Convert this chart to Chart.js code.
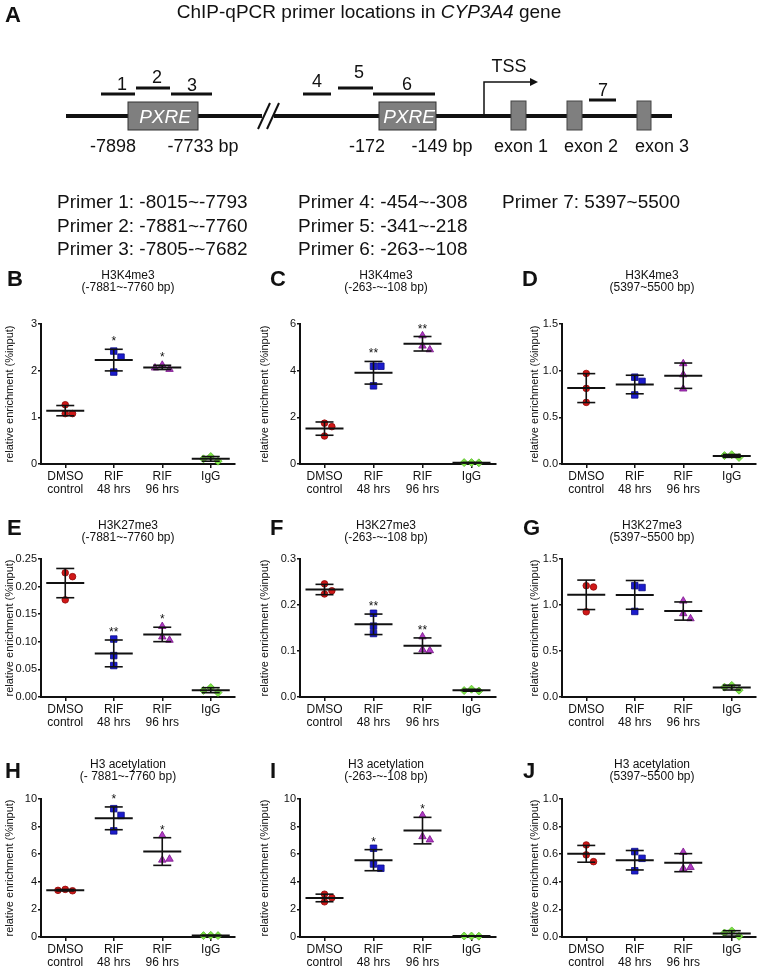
<!DOCTYPE html>
<html>
<head>
<meta charset="utf-8">
<script src="https://cdn.jsdelivr.net/npm/chart.js@4.4.1/dist/chart.umd.min.js"></script>
<style>
  body { margin: 0; background: #fff; }
  #wrap { position: relative; width: 777px; height: 968px; overflow: hidden; }
  #wrap canvas { position: absolute; }
  #overlay { position: absolute; left: 0; top: 0; pointer-events: none; }
</style>
</head>
<body>
<div id="wrap">
<svg id="overlay" width="777" height="968" font-family="'Liberation Sans', Arial, sans-serif" fill="#111">
  <!-- panel A: primer map -->
  <text x="5" y="22" font-size="22" font-weight="bold">A</text>
  <text x="369" y="18" font-size="19" text-anchor="middle">ChIP-qPCR primer locations in <tspan font-style="italic">CYP3A4</tspan> gene</text>

  <line x1="66" y1="116" x2="262" y2="116" stroke="#111" stroke-width="4"/>
  <line x1="274" y1="116" x2="672" y2="116" stroke="#111" stroke-width="4"/>
  <line x1="258" y1="129" x2="270" y2="103" stroke="#111" stroke-width="2"/>
  <line x1="267" y1="129" x2="279" y2="103" stroke="#111" stroke-width="2"/>

  <rect x="128" y="102" width="70" height="28" fill="#7f7f7f" stroke="#333" stroke-width="1"/>
  <text x="165" y="123" font-size="19" font-style="italic" fill="#fff" text-anchor="middle">PXRE</text>
  <rect x="379" y="102" width="57" height="28" fill="#7f7f7f" stroke="#333" stroke-width="1"/>
  <text x="409" y="123" font-size="19" font-style="italic" fill="#fff" text-anchor="middle">PXRE</text>

  <rect x="511" y="101" width="15" height="29" fill="#7f7f7f" stroke="#444" stroke-width="1"/>
  <rect x="567" y="101" width="15" height="29" fill="#7f7f7f" stroke="#444" stroke-width="1"/>
  <rect x="637" y="101" width="14" height="29" fill="#7f7f7f" stroke="#444" stroke-width="1"/>

  <polyline points="484,116 484,82 531,82" fill="none" stroke="#111" stroke-width="1.5"/>
  <polygon points="530,78 538,82 530,86" fill="#111"/>
  <text x="509" y="72" font-size="18" text-anchor="middle">TSS</text>

  <g stroke="#111" stroke-width="3">
    <line x1="101" y1="94" x2="135" y2="94"/>
    <line x1="136" y1="88" x2="170" y2="88"/>
    <line x1="171" y1="94" x2="212" y2="94"/>
    <line x1="303" y1="94" x2="331" y2="94"/>
    <line x1="338" y1="88" x2="373" y2="88"/>
    <line x1="373" y1="94" x2="435" y2="94"/>
    <line x1="589" y1="100" x2="616" y2="100"/>
  </g>
  <g font-size="18" text-anchor="middle">
    <text x="122" y="90">1</text>
    <text x="157" y="83">2</text>
    <text x="192" y="91">3</text>
    <text x="317" y="87">4</text>
    <text x="359" y="78">5</text>
    <text x="407" y="90">6</text>
    <text x="603" y="96">7</text>
  </g>
  <g font-size="18" text-anchor="middle">
    <text x="113" y="152">-7898</text>
    <text x="203" y="152">-7733 bp</text>
    <text x="367" y="152">-172</text>
    <text x="442" y="152">-149 bp</text>
    <text x="521" y="152">exon 1</text>
    <text x="591" y="152">exon 2</text>
    <text x="662" y="152">exon 3</text>
  </g>
  <g font-size="19">
    <text x="57" y="208">Primer 1: -8015~-7793</text>
    <text x="57" y="232">Primer 2: -7881~-7760</text>
    <text x="57" y="255">Primer 3: -7805-~7682</text>
    <text x="298" y="208">Primer 4: -454~-308</text>
    <text x="298" y="232">Primer 5: -341~-218</text>
    <text x="298" y="255">Primer 6: -263-~108</text>
    <text x="502" y="208">Primer 7: 5397~5500</text>
  </g>

  <!-- panel letters -->
  <g font-size="22" font-weight="bold">
    <text x="7" y="286">B</text>
    <text x="270" y="286">C</text>
    <text x="522" y="286">D</text>
    <text x="7" y="535">E</text>
    <text x="270" y="535">F</text>
    <text x="523" y="535">G</text>
    <text x="5" y="778">H</text>
    <text x="270" y="778">I</text>
    <text x="523" y="778">J</text>
  </g>
</svg>
</div>
<script>
const categories = [["DMSO", "control"], ["RIF", "48 hrs"], ["RIF", "96 hrs"], "IgG"];
const yTitle = "relative enrichment (%input)";

// replicates per group: DMSO control, RIF 48 hrs, RIF 96 hrs, IgG
const k4Pxre = [[1.27, 1.08, 1.08], [2.42, 2.29, 1.97], [2.12, 2.03, 2.06], [0.16, 0.06, 0.11]];
const k4Prom = [[1.75, 1.6, 1.2], [4.19, 4.19, 3.35], [5.5, 5.06, 4.9], [0.06, 0.05, 0.06]];
const k4Exon = [[0.97, 0.81, 0.66], [0.93, 0.885, 0.74], [1.076, 0.957, 0.805], [0.10, 0.07, 0.09]];
const k27Pxre = [[0.225, 0.218, 0.176], [0.105, 0.075, 0.057], [0.128, 0.109, 0.103], [0.017, 0.008, 0.012]];
const k27Prom = [[0.246, 0.224, 0.231], [0.182, 0.154, 0.138], [0.131, 0.103, 0.101], [0.017, 0.013, 0.014]];
const k27Exon = [[1.21, 1.196, 0.926], [1.21, 1.19, 0.93], [1.044, 0.907, 0.852], [0.126, 0.074, 0.107]];
const acPxre = [[3.45, 3.35, 3.38], [9.3, 8.81, 7.69], [7.35, 5.58, 5.65], [0.12, 0.10, 0.10]];
const acProm = [[3.1, 2.55, 2.84], [6.43, 5.29, 4.98], [8.81, 7.28, 7.04], [0.07, 0.06, 0.07]];
const acExon = [[0.667, 0.595, 0.546], [0.619, 0.57, 0.48], [0.614, 0.497, 0.505], [0.044, 0.005, 0.029]];

// significance marks per group
const starsOne = ["", "*", "*", ""];
const starsTwo = ["", "**", "**", ""];
const starsMix = ["", "**", "*", ""];
const starsNone = ["", "", "", ""];

// y axis: max, step, decimals
const yMax = [3, 6, 1.5, 0.25, 0.3, 1.5, 10, 10, 1.0];
const yStep = [1, 2, 0.5, 0.05, 0.1, 0.5, 2, 2, 0.2];
const yDec = [0, 0, 1, 2, 1, 1, 0, 0, 1];

const titles = [
  ["H3K4me3", "(-7881~-7760 bp)"], ["H3K4me3", "(-263-~-108 bp)"], ["H3K4me3", "(5397~5500 bp)"],
  ["H3K27me3", "(-7881~-7760 bp)"], ["H3K27me3", "(-263-~-108 bp)"], ["H3K27me3", "(5397~5500 bp)"],
  ["H3 acetylation", "(- 7881~-7760 bp)"], ["H3 acetylation", "(-263-~-108 bp)"], ["H3 acetylation", "(5397~5500 bp)"]
];
const panelData = [k4Pxre, k4Prom, k4Exon, k27Pxre, k27Prom, k27Exon, acPxre, acProm, acExon];
const panelStars = [starsOne, starsTwo, starsNone, starsMix, starsTwo, starsNone, starsOne, starsOne, starsNone];

// layout of the 3x3 grid
const cols = [
  { left: 4, width: 252, yw: 37, pr: 4 },
  { left: 259, width: 258, yw: 41, pr: 4 },
  { left: 529, width: 248, yw: 33, pr: 2 }
];
const rows = [
  { top: 262, height: 236, pb: 30, xh: 34 },
  { top: 512, height: 219, pb: 15, xh: 34 },
  { top: 751, height: 217, pb: 16, xh: 31 }
];

const groupStyle = [
  { pointStyle: "circle", radius: 3.3, bg: "#d01818", border: "#900808" },
  { pointStyle: "rect", radius: 4.6, bg: "#1c1ccc", border: "#0a0a88" },
  { pointStyle: "triangle", radius: 4.3, bg: "#b03cc4", border: "#781088" },
  { pointStyle: "rectRot", radius: 4, bg: "#80e848", border: "#58b828" }
];

Chart.defaults.font.family = "'Liberation Sans', Arial, sans-serif";
Chart.defaults.color = "#111";

function mean(a) { return a.reduce((s, v) => s + v, 0) / a.length; }
function sd(a) {
  const m = mean(a);
  return Math.sqrt(a.reduce((s, v) => s + (v - m) ** 2, 0) / (a.length - 1));
}

// push overlapping replicates sideways, like a column scatter
function spread(vals, top) {
  const step = 0.15, thr = top * 0.05;
  const placed = [];
  return vals.map(v => {
    for (const k of [0, 1, -1, 2, -2]) {
      const dx = k * step;
      if (!placed.some(p => Math.abs(p.y - v) < thr && Math.abs(p.x - dx) < step * 0.9)) {
        placed.push({ x: dx, y: v });
        return dx;
      }
    }
    return 0;
  });
}

const wrap = document.getElementById("wrap");
const overlay = document.getElementById("overlay");

panelData.forEach((groups, n) => {
  const c = cols[n % 3], r = rows[Math.floor(n / 3)];
  const canvas = document.createElement("canvas");
  canvas.width = c.width;
  canvas.height = r.height;
  canvas.style.left = c.left + "px";
  canvas.style.top = r.top + "px";
  canvas.style.width = c.width + "px";
  canvas.style.height = r.height + "px";
  wrap.insertBefore(canvas, overlay);

  const means = groups.map(mean);
  const sds = groups.map(sd);
  const stars = panelStars[n];

  const datasets = [
    { // mean bar
      data: means.map((m, i) => ({ x: i, y: m })),
      pointStyle: "line", pointRadius: 19, pointBorderWidth: 2,
      pointBorderColor: "#111", clip: false
    },
    { // SD caps
      data: means.flatMap((m, i) => [{ x: i, y: m + sds[i] }, { x: i, y: m - sds[i] }]),
      pointStyle: "line", pointRadius: 9, pointBorderWidth: 1.6,
      pointBorderColor: "#111", clip: false
    },
    { // SD stems
      data: means.flatMap((m, i) => [{ x: i, y: m - sds[i] }, { x: i, y: m + sds[i] }, { x: i + 0.5, y: null }]),
      showLine: true, borderColor: "#111", borderWidth: 1.6, pointRadius: 0, spanGaps: false, clip: false
    }
  ];
  groups.forEach((vals, i) => {
    const offs = spread(vals, yMax[n]);
    const st = groupStyle[i];
    datasets.push({
      data: vals.map((v, j) => ({ x: i + offs[j], y: v })),
      pointStyle: st.pointStyle, pointRadius: st.radius,
      pointBackgroundColor: st.bg, pointBorderColor: st.border, pointBorderWidth: 0.8,
      clip: false
    });
  });

  const starPlugin = {
    id: "stars",
    afterDatasetsDraw(chart) {
      const { ctx, scales: { x, y } } = chart;
      ctx.save();
      ctx.font = "12px 'Liberation Sans', Arial, sans-serif";
      ctx.fillStyle = "#111";
      ctx.textAlign = "center";
      ctx.textBaseline = "alphabetic";
      stars.forEach((s, i) => {
        if (!s) return;
        ctx.fillText(s, x.getPixelForValue(i), y.getPixelForValue(means[i] + sds[i]) - 4);
      });
      ctx.restore();
    }
  };

  new Chart(canvas, {
    type: "scatter",
    data: { datasets },
    plugins: [starPlugin],
    options: {
      responsive: false,
      animation: false,
      events: [],
      layout: { padding: { left: 0, right: c.pr, top: 0, bottom: 0 } },
      plugins: {
        legend: { display: false },
        tooltip: { enabled: false },
        title: {
          display: true,
          text: titles[n],
          font: { size: 12, weight: "normal", lineHeight: 1.0 },
          padding: { top: 8, bottom: r.pb },
          color: "#111"
        }
      },
      scales: {
        x: {
          type: "linear",
          min: -0.5,
          max: 3.5,
          afterBuildTicks: s => { s.ticks = categories.map((_, i) => ({ value: i })); },
          afterFit: s => { s.height = r.xh; },
          ticks: {
            callback: v => categories[v],
            autoSkip: false, maxRotation: 0, padding: 2,
            font: { size: 12, lineHeight: 1.1 }, color: "#111"
          },
          grid: { drawOnChartArea: false, tickLength: 4, color: "#111", lineWidth: 1.5 },
          border: { color: "#111", width: 2 }
        },
        y: {
          min: 0,
          max: yMax[n],
          afterFit: s => { s.width = c.yw; },
          ticks: {
            stepSize: yStep[n],
            callback: v => v.toFixed(yDec[n]),
            padding: 1, font: { size: 11 }, color: "#111"
          },
          grid: { drawOnChartArea: false, tickLength: 3, color: "#111", lineWidth: 1.5 },
          border: { color: "#111", width: 2 },
          title: {
            display: true, text: yTitle,
            font: { size: 11, lineHeight: 1.0 },
            padding: { top: 0, bottom: 0 }, color: "#111"
          }
        }
      }
    }
  });
});
</script>
</body>
</html>
